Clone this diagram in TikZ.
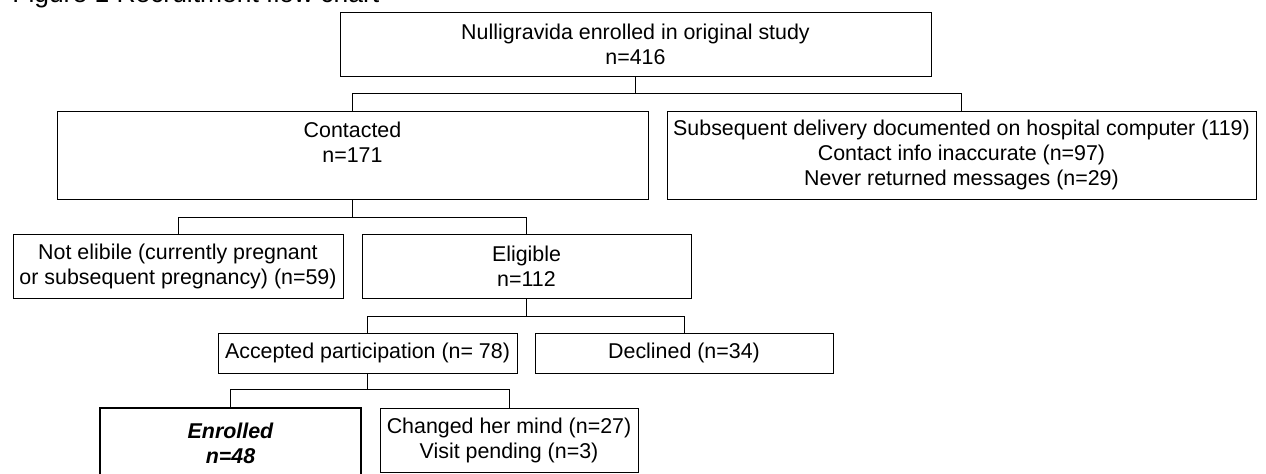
\documentclass[tikz,border=0pt]{standalone}
\usepackage{fontspec}
\setmainfont{Liberation Sans}
\usepackage{tikz}

\tikzset{
	box/.style={draw, rectangle, line width=0.5pt, align=center, inner sep=0pt, outer sep=0pt,
		font=\fontsize{10.7pt}{12.5pt}\selectfont},
	link/.style={draw, line width=0.5pt},
}

\begin{document}
\begin{tikzpicture}[x=0.5pt, y=-0.5pt]
	% Define the frame (one unit is one pixel of the figure)
	\useasboundingbox (0,0) rectangle (1266,473);

	% Title, cut at the top of the figure
	\node[anchor=base west, inner sep=0pt, font=\fontsize{13.2pt}{15pt}\selectfont] (title) at (12,2.5) {Figure 1 Recruitment flow chart};

	% Draw the first two levels
	\node[box, minimum width=295.5pt, minimum height=32pt] (start) at (635.5,44) {Nulligravida enrolled in original study\\n=416};
	\node[box, minimum width=295.5pt, minimum height=44pt] (contacted) at (352.5,155) {Contacted\\n=171\\\mbox{}};
	\node[box, minimum width=294.5pt, minimum height=44pt] (lost) at (961.5,155) {Subsequent delivery documented on hospital computer (119)\\Contact info inaccurate (n=97)\\Never returned messages (n=29)};

	% Draw the eligibility level
	\node[box, minimum width=165pt, minimum height=32pt] (noteligible) at (178,266) {Not elibile (currently pregnant\\or subsequent pregnancy) (n=59)};
	\node[box, minimum width=164.5pt, minimum height=32pt] (eligible) at (526.5,266) {Eligible\\n=112};

	% Draw the answers
	\node[box, minimum width=149.5pt, minimum height=20pt] (accepted) at (367.5,353) {Accepted participation (n= 78)};
	\node[box, minimum width=149pt, minimum height=20pt] (declined) at (684,353) {Declined (n=34)};

	% Draw the outcome (enrolled box runs off the bottom)
	\node[box, line width=1.4pt, minimum width=130.5pt, minimum height=35pt] (enrolled) at (230.5,443) {\bfseries\itshape Enrolled\\\bfseries\itshape n=48};
	\node[box, minimum width=129pt, minimum height=32pt] (changed) at (509,440) {Changed her mind (n=27)\\Visit pending (n=3)};

	% Connectors
	\draw[link] (start.south) -- ++(0,17) -| (contacted.north);
	\draw[link] (start.south) -- ++(0,17) -| (lost.north);

	\draw[link] (contacted.south) -- ++(0,18) -| (noteligible.north);
	\draw[link] (contacted.south) -- ++(0,18) -| (eligible.north);

	\draw[link] (eligible.south) -- ++(0,18) -| (accepted.north);
	\draw[link] (eligible.south) -- ++(0,18) -| (declined.north);

	\draw[link] (accepted.south) -- ++(0,16) -| (enrolled.north);
	\draw[link] (accepted.south) -- ++(0,16) -| (changed.north);
\end{tikzpicture}
\end{document}
